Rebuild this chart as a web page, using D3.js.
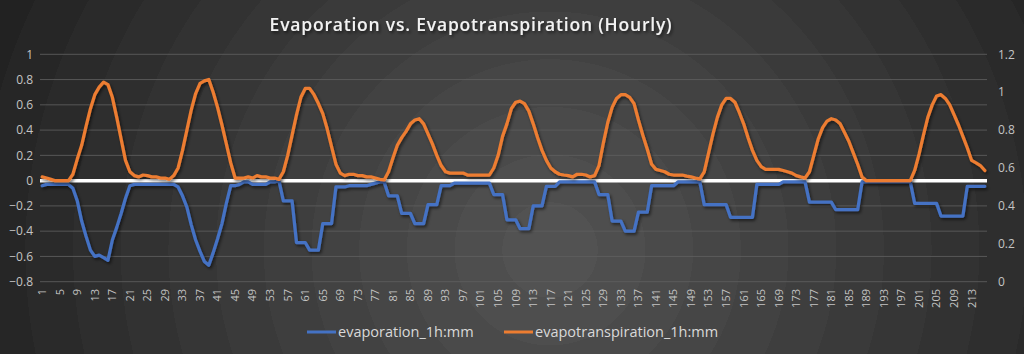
<!DOCTYPE html>
<html>
<head>
<meta charset="utf-8">
<script src="https://cdn.jsdelivr.net/npm/d3@7"></script>
<style>
  html, body { margin: 0; padding: 0; background: #262626; }
  svg { display: block; }
</style>
</head>
<body>
<svg id="chart" width="1024" height="354"></svg>
<script>
// hour index along the x axis
const hours = d3.range(1, 217);

// evaporation_1h:mm (left axis)
const evaporation = [
  -0.04, -0.03, -0.03, -0.03, -0.03, -0.03, -0.03, -0.06, -0.16, -0.32,
  -0.44, -0.55, -0.60, -0.59, -0.61, -0.63, -0.47, -0.37, -0.26, -0.14,
  -0.04, -0.03, -0.03, -0.03, -0.03, -0.03, -0.03, -0.03, -0.03, -0.03,
  -0.03, -0.05, -0.12, -0.21, -0.35, -0.47, -0.56, -0.64, -0.67, -0.57,
  -0.46, -0.34, -0.18, -0.04, -0.04, -0.03, -0.01, -0.01, -0.03, -0.03,
  -0.03, -0.03, -0.01, -0.01, 0, -0.16, -0.16, -0.16, -0.49, -0.49,
  -0.49, -0.55, -0.55, -0.55, -0.34, -0.34, -0.34, -0.05, -0.05, -0.05,
  -0.04, -0.04, -0.04, -0.04, -0.04, -0.03, -0.02, -0.01, -0.01, -0.12,
  -0.12, -0.12, -0.26, -0.26, -0.26, -0.34, -0.34, -0.34, -0.19, -0.19,
  -0.19, -0.04, -0.04, -0.04, -0.02, -0.02, -0.02, -0.02, -0.02, -0.02,
  -0.02, -0.02, -0.02, -0.11, -0.11, -0.11, -0.31, -0.31, -0.31, -0.38,
  -0.38, -0.38, -0.20, -0.20, -0.20, -0.045, -0.045, -0.045, -0.01, -0.01,
  -0.01, -0.01, -0.01, -0.01, -0.01, -0.01, -0.01, -0.11, -0.11, -0.11,
  -0.32, -0.32, -0.32, -0.40, -0.40, -0.40, -0.25, -0.25, -0.25, -0.04,
  -0.04, -0.04, -0.04, -0.04, -0.04, -0.01, -0.01, -0.01, -0.01, -0.01,
  -0.01, -0.19, -0.19, -0.19, -0.19, -0.19, -0.19, -0.29, -0.29, -0.29,
  -0.29, -0.29, -0.29, -0.03, -0.03, -0.03, -0.03, -0.03, -0.03, -0.01,
  -0.01, -0.01, -0.01, -0.01, -0.01, -0.17, -0.17, -0.17, -0.17, -0.17,
  -0.17, -0.23, -0.23, -0.23, -0.23, -0.23, -0.23, -0.01, -0.01, -0.01,
  -0.01, -0.01, -0.01, -0.01, -0.01, -0.01, -0.01, -0.01, -0.01, -0.18,
  -0.18, -0.18, -0.18, -0.18, -0.18, -0.28, -0.28, -0.28, -0.28, -0.28,
  -0.28, -0.045, -0.045, -0.045, -0.045, -0.045
];

// evapotranspiration_1h:mm (right axis)
const evapotranspiration = [
  0.553, 0.547, 0.54, 0.533, 0.533, 0.533, 0.533, 0.567, 0.647, 0.72,
  0.82, 0.913, 0.987, 1.027, 1.053, 1.04, 0.973, 0.867, 0.753, 0.64,
  0.58, 0.56, 0.553, 0.563, 0.56, 0.553, 0.553, 0.547, 0.547, 0.54,
  0.56, 0.6, 0.693, 0.8, 0.907, 0.993, 1.047, 1.06, 1.067, 1.0,
  0.92, 0.827, 0.727, 0.627, 0.547, 0.547, 0.547, 0.553, 0.547, 0.56,
  0.553, 0.553, 0.547, 0.547, 0.54, 0.58, 0.667, 0.773, 0.88, 0.973,
  1.02, 1.02, 0.987, 0.94, 0.887, 0.807, 0.713, 0.62, 0.573, 0.56,
  0.567, 0.567, 0.56, 0.56, 0.553, 0.553, 0.547, 0.54, 0.537, 0.58,
  0.653, 0.72, 0.76, 0.793, 0.833, 0.853, 0.86, 0.833, 0.78, 0.727,
  0.667, 0.613, 0.58, 0.573, 0.573, 0.573, 0.573, 0.563, 0.563, 0.563,
  0.563, 0.563, 0.563, 0.6, 0.667, 0.767, 0.833, 0.913, 0.947, 0.953,
  0.94, 0.9, 0.833, 0.76, 0.693, 0.64, 0.6, 0.58, 0.567, 0.563,
  0.56, 0.553, 0.567, 0.567, 0.563, 0.553, 0.56, 0.613, 0.733, 0.84,
  0.92, 0.967, 0.987, 0.987, 0.973, 0.94, 0.853, 0.773, 0.7, 0.62,
  0.593, 0.587, 0.58, 0.567, 0.563, 0.563, 0.563, 0.557, 0.553, 0.547,
  0.543, 0.58, 0.68, 0.78, 0.867, 0.933, 0.967, 0.967, 0.947, 0.893,
  0.833, 0.76, 0.693, 0.64, 0.607, 0.593, 0.593, 0.593, 0.593, 0.587,
  0.58, 0.573, 0.56, 0.553, 0.547, 0.58, 0.667, 0.753, 0.813, 0.847,
  0.86, 0.853, 0.833, 0.787, 0.74, 0.68, 0.62, 0.553, 0.533, 0.533,
  0.533, 0.533, 0.533, 0.533, 0.533, 0.533, 0.533, 0.533, 0.533, 0.587,
  0.673, 0.773, 0.867, 0.933, 0.98, 0.987, 0.967, 0.933, 0.88, 0.827,
  0.767, 0.707, 0.64, 0.627, 0.613, 0.587
];

const leftTicks = [-0.8, -0.6, -0.4, -0.2, 0, 0.2, 0.4, 0.6, 0.8, 1];
const rightTicks = [0, 0.2, 0.4, 0.6, 0.8, 1, 1.2];
const xTickLabels = hours.filter(function (h) { return h % 4 === 1; });
const seriesNames = ["evaporation_1h:mm", "evapotranspiration_1h:mm"];
const colors = ["#4472C4", "#ED7D31"];

const width = 1024;
const height = 354;
const plot = { left: 40, right: 987, top: 54.3, bottom: 281.7 };

const svg = d3.select("#chart");
const defs = svg.append("defs");

// banded radial background
const bands = ["#525252", "#4e4e4e", "#4a4a4a", "#464646", "#424242", "#3e3e3e",
  "#3a3a3a", "#363636", "#323232", "#2e2e2e", "#2a2a2a", "#262626", "#222222"];
const grad = defs.append("radialGradient")
  .attr("id", "bg")
  .attr("gradientUnits", "userSpaceOnUse")
  .attr("cx", 550).attr("cy", 250).attr("r", 620);
bands.forEach(function (c, i) {
  grad.append("stop").attr("offset", i / bands.length).attr("stop-color", c);
  grad.append("stop").attr("offset", (i + 1) / bands.length).attr("stop-color", c);
});

const shadow = defs.append("filter").attr("id", "shadow")
  .attr("x", "-5%").attr("y", "-20%").attr("width", "110%").attr("height", "140%");
shadow.append("feDropShadow")
  .attr("dx", 1.5).attr("dy", 2).attr("stdDeviation", 1.5)
  .attr("flood-color", "#000").attr("flood-opacity", 0.55);

svg.append("rect").attr("width", width).attr("height", height).attr("fill", "url(#bg)");

// scales
const x = d3.scalePoint().domain(hours).range([plot.left, plot.right]).padding(0.5);
const yLeft = d3.scaleLinear().domain([-0.8, 1]).range([plot.bottom, plot.top]);
const yRight = d3.scaleLinear().domain([0, 1.2]).range([plot.bottom, plot.top]);

// gridlines
svg.append("g")
  .selectAll("line")
  .data(leftTicks)
  .enter()
  .append("line")
  .attr("x1", plot.left)
  .attr("x2", plot.right)
  .attr("y1", function (d) { return yLeft(d); })
  .attr("y2", function (d) { return yLeft(d); })
  .attr("stroke", "#5e5e5e")
  .attr("stroke-opacity", 0.85)
  .attr("stroke-width", 1);

// left axis labels
svg.append("g")
  .selectAll("text")
  .data(leftTicks)
  .enter()
  .append("text")
  .attr("x", 33)
  .attr("y", function (d) { return yLeft(d); })
  .attr("dy", "0.35em")
  .attr("text-anchor", "end")
  .attr("font-family", "Open Sans, sans-serif")
  .attr("font-size", 12)
  .attr("fill", "#c4c4c4")
  .text(function (d) { return d3.format("")(d); });

// right axis labels
svg.append("g")
  .selectAll("text")
  .data(rightTicks)
  .enter()
  .append("text")
  .attr("x", 998)
  .attr("y", function (d) { return yRight(d); })
  .attr("dy", "0.35em")
  .attr("text-anchor", "start")
  .attr("font-family", "Open Sans, sans-serif")
  .attr("font-size", 12)
  .attr("fill", "#c4c4c4")
  .text(function (d) { return d3.format("")(d); });

// x axis labels, rotated
svg.append("g")
  .selectAll("text")
  .data(xTickLabels)
  .enter()
  .append("text")
  .attr("transform", function (d) { return "translate(" + x(d) + ",289) rotate(-90)"; })
  .attr("dy", "0.35em")
  .attr("text-anchor", "end")
  .attr("font-family", "Open Sans, sans-serif")
  .attr("font-size", 11)
  .attr("fill", "#c4c4c4")
  .text(function (d) { return d; });

// zero line
svg.append("line")
  .attr("x1", plot.left)
  .attr("x2", plot.right)
  .attr("y1", yLeft(0))
  .attr("y2", yLeft(0))
  .attr("stroke", "#ffffff")
  .attr("stroke-width", 3.5);

// series
const lineLeft = d3.line()
  .x(function (d, i) { return x(hours[i]); })
  .y(function (d) { return yLeft(d); });
const lineRight = d3.line()
  .x(function (d, i) { return x(hours[i]); })
  .y(function (d) { return yRight(d); });

svg.append("path")
  .attr("d", lineLeft(evaporation))
  .attr("fill", "none")
  .attr("stroke", colors[0])
  .attr("stroke-width", 3.25)
  .attr("stroke-linejoin", "round")
  .attr("stroke-linecap", "round")
  .attr("filter", "url(#shadow)");

svg.append("path")
  .attr("d", lineRight(evapotranspiration))
  .attr("fill", "none")
  .attr("stroke", colors[1])
  .attr("stroke-width", 3.25)
  .attr("stroke-linejoin", "round")
  .attr("stroke-linecap", "round")
  .attr("filter", "url(#shadow)");

// title
svg.append("text")
  .attr("x", 471)
  .attr("y", 31)
  .attr("text-anchor", "middle")
  .attr("font-family", "Open Sans, sans-serif")
  .attr("font-weight", 600)
  .attr("font-size", 17.5)
  .attr("letter-spacing", 0.8)
  .attr("fill", "#f2f2f2")
  .attr("filter", "url(#shadow)")
  .text("Evaporation vs. Evapotranspiration (Hourly)");

// legend
const legendX = [307, 504];
const legend = svg.append("g")
  .selectAll("g")
  .data(seriesNames)
  .enter()
  .append("g")
  .attr("transform", function (d, i) { return "translate(" + legendX[i] + ",332)"; });
legend.append("line")
  .attr("x1", 0).attr("x2", 29)
  .attr("stroke", function (d, i) { return colors[i]; })
  .attr("stroke-width", 3);
legend.append("text")
  .attr("x", 31)
  .attr("dy", "0.35em")
  .attr("font-family", "Open Sans, sans-serif")
  .attr("font-size", 14.5)
  .attr("fill", "#d9d9d9")
  .text(function (d) { return d; });
</script>
</body>
</html>
